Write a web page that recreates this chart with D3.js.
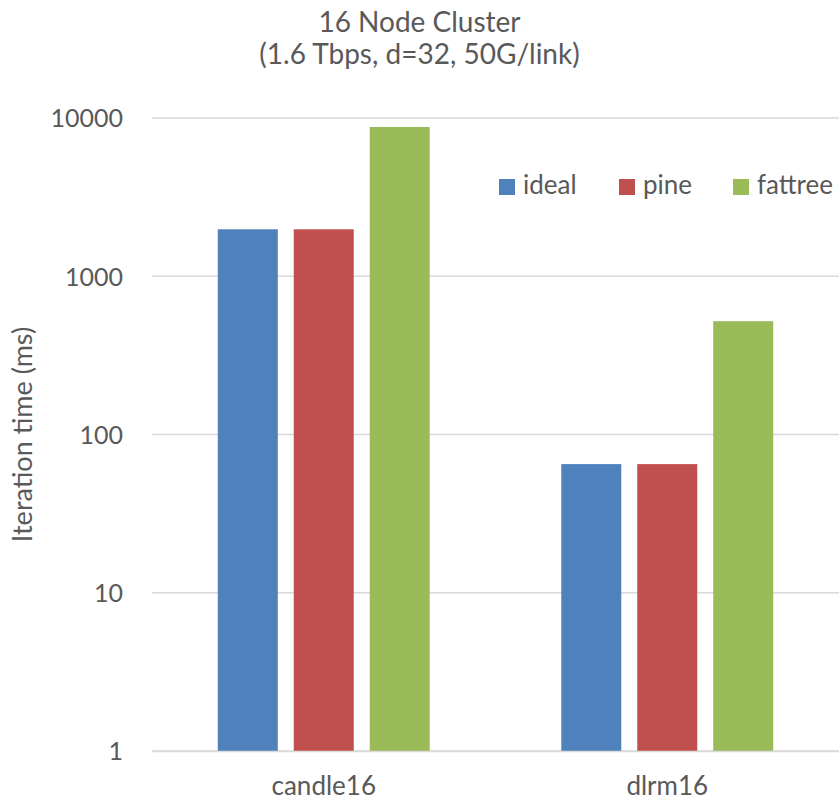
<!DOCTYPE html>
<html>
<head>
<meta charset="utf-8">
<script src="https://cdn.jsdelivr.net/npm/d3@7"></script>
<style>
  body { margin: 0; background: #fff; }
  svg text { font-family: Lato, "Open Sans", sans-serif; fill: #595959; }
</style>
</head>
<body>
<div id="chart"></div>
<script>
const categories = ["candle16", "dlrm16"];
const seriesNames = ["ideal", "pine", "fattree"];
const ideal = [1980, 65];
const pine = [1980, 65];
const fattree = [8770, 520];
const yTicks = [1, 10, 100, 1000, 10000];
const colors = ["#4f81bd", "#c0504d", "#9bbb59"];

const seriesValues = [ideal, pine, fattree];

const W = 839, H = 802;
const plot = { left: 152, right: 839, top: 118, bottom: 751 };

const svg = d3.select("#chart").append("svg")
    .attr("width", W)
    .attr("height", H);

// title
const title = svg.append("text")
    .attr("text-anchor", "middle")
    .attr("font-size", 28);
title.append("tspan").attr("x", W / 2).attr("y", 32).text("16 Node Cluster");
title.append("tspan").attr("x", W / 2).attr("y", 64).text("(1.6 Tbps, d=32, 50G/link)");

// scales
const x0 = d3.scaleBand()
    .domain(categories)
    .range([plot.left, plot.right])
    .paddingInner(0.383)
    .paddingOuter(0.1915);

const x1 = d3.scaleBand()
    .domain(seriesNames)
    .range([0, x0.bandwidth()])
    .paddingInner(0.21);

const y = d3.scaleLog()
    .domain([1, 10000])
    .range([plot.bottom, plot.top]);

// gridlines
svg.append("g")
    .selectAll("line")
    .data(yTicks)
    .join("line")
    .attr("x1", plot.left)
    .attr("x2", plot.right)
    .attr("y1", d => y(d))
    .attr("y2", d => y(d))
    .attr("stroke", "#d9d9d9")
    .attr("stroke-width", 1.3);

// y axis labels
const yAxis = svg.append("g")
    .attr("transform", `translate(${plot.left}, 0)`)
    .call(d3.axisLeft(y).tickValues(yTicks).tickFormat(d3.format("d")).tickSize(0).tickPadding(29));
yAxis.select(".domain").remove();
yAxis.selectAll("text")
    .attr("font-size", 25)
    .attr("dy", "0.35em")
    .style("font-family", "Lato, sans-serif")
    .attr("fill", "#595959");

// bars
const groups = svg.append("g")
    .selectAll("g")
    .data(categories)
    .join("g")
    .attr("transform", d => `translate(${x0(d)}, 0)`);

groups.selectAll("rect")
    .data((d, i) => seriesNames.map((s, j) => ({ s, j, v: seriesValues[j][i] })))
    .join("rect")
    .attr("x", d => x1(d.s))
    .attr("width", x1.bandwidth())
    .attr("y", d => y(d.v))
    .attr("height", d => y(1) - y(d.v))
    .attr("fill", d => colors[d.j]);

// x axis
const xAxis = svg.append("g")
    .attr("transform", `translate(0, ${plot.bottom})`)
    .call(d3.axisBottom(x0).tickSize(0).tickPadding(26));
xAxis.select(".domain")
    .attr("stroke", "#d9d9d9")
    .attr("stroke-width", 1.3);
xAxis.selectAll("text")
    .attr("font-size", 26)
    .style("font-family", "Lato, sans-serif")
    .attr("fill", "#595959");

// y axis title
svg.append("text")
    .attr("transform", `translate(32, ${(plot.top + plot.bottom) / 2}) rotate(-90)`)
    .attr("text-anchor", "middle")
    .attr("font-size", 27)
    .text("Iteration time (ms)");

// legend
const legendX = [499, 619, 733];
const legend = svg.append("g")
    .selectAll("g")
    .data(seriesNames)
    .join("g")
    .attr("transform", (d, i) => `translate(${legendX[i]}, 179)`);
legend.append("rect")
    .attr("width", 16)
    .attr("height", 16)
    .attr("fill", (d, i) => colors[i]);
legend.append("text")
    .attr("x", 24)
    .attr("y", 15)
    .attr("font-size", 26)
    .text(d => d);
</script>
</body>
</html>
